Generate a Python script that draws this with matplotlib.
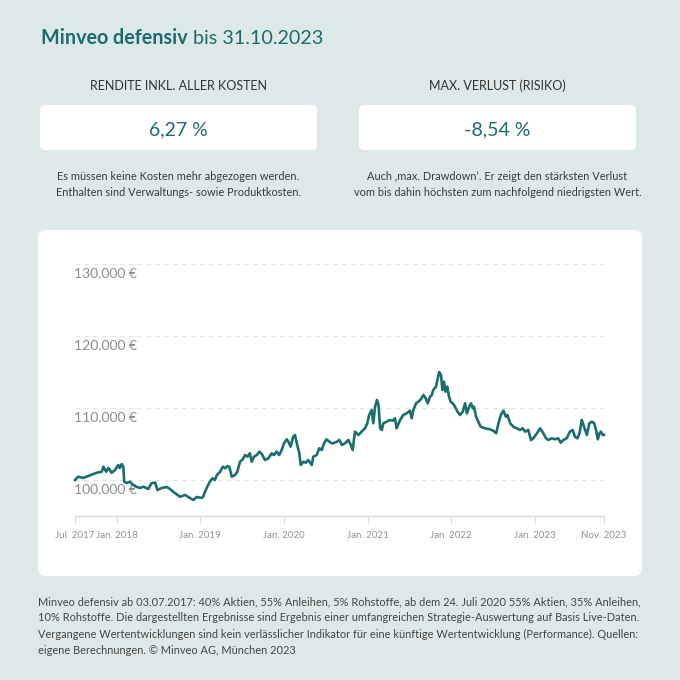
import matplotlib
matplotlib.use("Agg")
import matplotlib.pyplot as plt
import matplotlib.dates as mdates
from matplotlib.patches import FancyBboxPatch
from matplotlib.transforms import offset_copy
import pandas as pd

plt.rcParams['font.family'] = ['Lato', 'DejaVu Sans']

# ---------------- data ----------------
title_bold = "Minveo defensiv"
title_rest = " bis 31.10.2023"
kpi_labels = ["RENDITE INKL. ALLER KOSTEN", "MAX. VERLUST (RISIKO)"]
kpi_values = ["6,27 %", "-8,54 %"]
kpi_notes = [
    "Es müssen keine Kosten mehr abgezogen werden.\nEnthalten sind Verwaltungs- sowie Produktkosten.",
    "Auch \u201amax. Drawdown\u2018. Er zeigt den stärksten Verlust\nvom bis dahin höchsten zum nachfolgend niedrigsten Wert.",
]
start_date = "2017-07-03"
day_offsets = [
    0, 14, 36, 58, 80, 95, 117, 124, 136, 146, 160, 175, 189, 196, 204, 211, 215, 226, 240, 254,
    270, 284, 299, 320, 335, 350, 360, 379, 400, 415, 436, 459, 481, 503, 517, 532, 553,
    560, 568, 578, 589, 601, 611, 620, 634, 646, 656, 666, 674, 685, 699, 709, 721, 733, 743,
    753, 764, 772, 782, 794, 806, 816, 830, 845, 859, 869, 881, 892, 903, 913, 925, 932, 942,
    953, 961, 969, 980, 986, 998, 1009, 1019, 1034, 1041, 1056, 1067, 1078, 1088, 1099, 1111, 1121,
    1128, 1144, 1155, 1166, 1180, 1194, 1205, 1213, 1223, 1238, 1252, 1267, 1277, 1285, 1296,
    1303, 1311, 1319, 1326, 1333, 1340, 1347, 1362, 1373, 1388, 1398, 1405, 1420, 1434, 1449,
    1463, 1471, 1478, 1490, 1500, 1511, 1522, 1532, 1541, 1551, 1559, 1565, 1577, 1583, 1591,
    1599, 1605, 1612, 1619, 1626, 1634, 1641, 1650, 1660, 1671,
    1682, 1694, 1704, 1712, 1722, 1730, 1738, 1743, 1752, 1762, 1772, 1791, 1813, 1827, 1840,
    1850, 1860, 1872, 1882, 1889, 1901, 1915, 1930, 1944, 1956, 1966, 1980, 1992, 2002, 2018,
    2032, 2046, 2058, 2068, 2083, 2097, 2111, 2122, 2133, 2148, 2162, 2174, 2184, 2195, 2204,
    2214, 2224, 2236, 2247, 2258, 2268, 2276, 2284, 2291, 2298, 2305, 2311,
]
values = [
    100000, 100460, 100280, 100560, 100830, 101010, 101150, 101850, 101150, 101670, 101010, 101390,
    102080, 101670, 102220, 101850, 99760, 99580, 99760, 99310,
    99030, 98890, 99070, 98750, 99580, 99630, 98610, 98890, 99030, 98750, 98190, 97680, 97920,
    97500, 97220, 97640, 97500,
    97680, 98380, 99070, 99760, 100240, 100000, 100690, 101150, 101850, 101630, 101940, 101850,
    100460, 100690, 101150, 102540, 102880, 103470,
    103240, 103710, 102540, 103240, 103470, 103930, 103610, 102780, 103010, 103710, 103470, 103930,
    103470, 104170, 105100, 105650, 105320, 104630,
    106010, 106250, 105100, 103710, 102080, 102540, 102400, 102780, 102080, 103240, 103470, 104400,
    104170, 105100, 105650, 105320, 105100,
    105100, 105320, 105560, 104860, 105100, 105560, 104860, 104170, 106710, 106250, 106710, 107180,
    107880, 109030, 109720,
    107880, 110180, 111110, 110420, 107180, 106950, 107880, 108100, 108330, 108240, 108570, 107180,
    108330, 109030, 109260,
    109630, 108570, 109720, 110650, 110880, 111210, 111810, 111350, 110650, 111570, 111810, 112500,
    112960, 113890, 115000,
    114580, 112500, 113650, 112270, 112960, 111570, 110880, 110650, 110180, 109490,
    109030, 109490, 110650, 109260, 110180, 110650, 109960, 110180, 108790, 108100, 107400, 107180,
    107040, 106850, 106490,
    107880, 109030, 109630, 108790, 109030, 107880, 107400, 107180, 106950, 107180, 106710, 106950,
    105560, 105790, 106490,
    107180, 106490, 105790, 105560, 105790, 105650, 105790, 105180, 105560, 105790, 106710, 106950,
    106010, 105790, 106490,
    108330, 107400, 106250, 107880, 108100, 107880, 106950, 105650, 106490, 106710, 106250, 106270,
]
y_ticks = [100000, 110000, 120000, 130000]
y_tick_labels = ["100.000 €", "110.000 €", "120.000 €", "130.000 €"]
x_tick_dates = ["2017-07-03", "2018-01-01", "2019-01-01", "2020-01-01", "2021-01-01",
                "2022-01-01", "2023-01-01", "2023-10-31"]
x_tick_labels = ["Jul. 2017", "Jan. 2018", "Jan. 2019", "Jan. 2020", "Jan. 2021",
                 "Jan. 2022", "Jan. 2023", "Nov. 2023"]
footer_lines = [
    "Minveo defensiv ab 03.07.2017: 40% Aktien, 55% Anleihen, 5% Rohstoffe, ab dem 24. Juli 2020 55% Aktien, 35% Anleihen,",
    "10% Rohstoffe. Die dargestellten Ergebnisse sind Ergebnis einer umfangreichen Strategie-Auswertung auf Basis Live-Daten.",
    "Vergangene Wertentwicklungen sind kein verlässlicher Indikator für eine künftige Wertentwicklung (Performance). Quellen:",
    "eigene Berechnungen. © Minveo AG, München 2023",
]

# ---------------- style ----------------
W, H = 680, 680
BG = "#dde9e9"
TEAL = "#1d6b6b"
LINE = "#1b6e6e"
TXT = "#3a3a3a"

def fx(x):
    return x / W

def fy(y):
    return 1 - y / H

fig = plt.figure(figsize=(W / 100, H / 100), dpi=100, facecolor=BG)

# title (bold + regular)
t1 = fig.text(fx(41), fy(43.5), title_bold, fontsize=14.25, fontweight="bold", color=TEAL,
              va="baseline", ha="left")
fig.canvas.draw()
r = fig.canvas.get_renderer()
bb = t1.get_window_extent(renderer=r)
fig.text(bb.x1 / W, fy(43.5), title_rest, fontsize=14.25, color=TEAL, va="baseline", ha="left")

# KPI blocks
box_lefts = [40, 359]
box_w = 277
for i in range(2):
    cx = box_lefts[i] + box_w / 2
    fig.text(fx(cx), fy(90), kpi_labels[i], fontsize=9, color="#333333", ha="center",
             va="baseline")
    fig.patches.append(FancyBboxPatch((fx(box_lefts[i]), fy(150)), box_w / W, 45 / H,
                                      boxstyle="round,pad=0,rounding_size=0.008",
                                      transform=fig.transFigure, facecolor="white",
                                      edgecolor="none", figure=fig, zorder=-2))
    fig.text(fx(cx), fy(135), kpi_values[i], fontsize=14, color=TEAL, ha="center",
             va="baseline")
    l1, l2 = kpi_notes[i].split("\n")
    fig.text(fx(cx), fy(180), l1, fontsize=7.9, color=TXT, ha="center", va="baseline")
    fig.text(fx(cx), fy(196.5), l2, fontsize=7.9, color=TXT, ha="center", va="baseline")

# chart panel
fig.patches.append(FancyBboxPatch((fx(38), fy(576)), (642 - 38) / W, (576 - 230) / H,
                                  boxstyle="round,pad=0,rounding_size=0.012",
                                  transform=fig.transFigure, facecolor="white",
                                  edgecolor="none", figure=fig, zorder=-2))

ax = fig.add_axes([fx(75), fy(516), (604 - 75) / W, (516 - 264) / H])
ax.set_zorder(2)
ax.set_facecolor("none")
dates = pd.Timestamp(start_date) + pd.to_timedelta(day_offsets, unit="D")
ax.plot(dates, values, color=LINE, lw=1.9, solid_joinstyle="round", clip_on=False, zorder=3)

ax.set_xlim(pd.Timestamp(x_tick_dates[0]), pd.Timestamp(x_tick_dates[-1]))
ax.set_ylim(95000, 130000)
for s in ["top", "right", "left"]:
    ax.spines[s].set_visible(False)
ax.spines["bottom"].set_color("#d9d9d9")
ax.spines["bottom"].set_linewidth(1)

ax.set_yticks(y_ticks)
ax.set_yticklabels([])
ax.tick_params(axis="y", length=0)
ax.grid(axis="y", color="#e2e2e2", lw=0.8, linestyle=(0, (4, 4)))
ax.set_axisbelow(True)
lab_tr = offset_copy(ax.get_yaxis_transform(), fig=fig, x=-1, y=-14, units="dots")
for v, lab in zip(y_ticks, y_tick_labels):
    ax.text(0, v, lab, transform=lab_tr, fontsize=10, color="#8c8c8c", ha="left",
            va="baseline", zorder=2)

ax.set_xticks([pd.Timestamp(d) for d in x_tick_dates])
ax.set_xticklabels(x_tick_labels)
ax.tick_params(axis="x", length=5, width=0.8, color="#d9d9d9", labelsize=7,
               labelcolor="#919191", pad=5.5)

# footer
for k, line in enumerate(footer_lines):
    fig.text(fx(38.5), fy(605 + k * 16.3), line, fontsize=7.95, color="#444444",
             ha="left", va="baseline")

fig.savefig("out.png", dpi=100, facecolor=BG)
